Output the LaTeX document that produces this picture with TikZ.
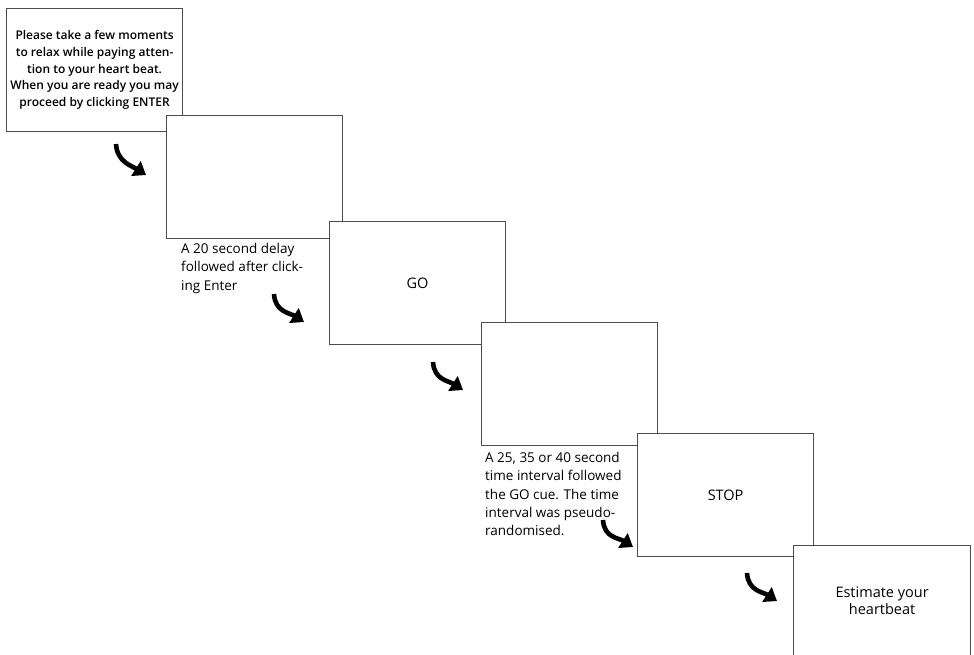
\documentclass[tikz,border=0pt]{standalone}
\usepackage{fontspec}
\setmainfont{Open Sans}[BoldFont={Open Sans Semibold}]
\usetikzlibrary{arrows.meta,positioning}

\begin{document}
\begin{tikzpicture}[x=1pt,y=-1pt,
    screen/.style={draw=black!70,line width=1.2pt,fill=white,anchor=north west,
      minimum width=176pt,minimum height=123pt,align=center,inner sep=0pt,
      font=\fontsize{14.5}{17.5}\selectfont},
    note/.style={anchor=north west,align=left,inner sep=0pt,
      font=\fontsize{13.5}{18.3}\selectfont},
    turn/.style={-{Triangle[length=12pt,width=17pt]},line width=4.6pt}
  ]
    \useasboundingbox (0,0) rectangle (974,654);
    \node[screen,font=\bfseries\fontsize{12}{16.7}\selectfont] (relax) at (6,8)
      {Please take a few moments\\to relax while paying atten-\\tion to your heart beat.\\When you are ready you may\\proceed by clicking ENTER};
    \node[screen] (delay) at (166,115) {};
    \node[note] (delaynote) at (181,243) {A 20 second delay\\followed after click-\\ing Enter};
    \node[screen] (go) at (329,221) {GO};
    \node[screen] (interval) at (481,322) {};
    \node[note] (intervalnote) at (485,452) {A 25, 35 or 40 second\\time interval followed\\the GO cue. The time\\interval was pseudo-\\randomised.};
    \node[screen] (stop) at (637,433) {STOP};
    \node[screen,minimum width=177pt,minimum height=110pt] (estimate) at (793,545) {Estimate your\\heartbeat};
    % curved arrows between the screens
    \coordinate (a1) at (116,144); \coordinate (b1) at (146,175);
    \coordinate (a2) at (274,294); \coordinate (b2) at (304,322);
    \coordinate (a3) at (433,362); \coordinate (b3) at (463,390);
    \coordinate (a4) at (603,520); \coordinate (b4) at (633,547);
    \coordinate (a5) at (747,573); \coordinate (b5) at (777,601);
    \foreach \i in {1,...,5}
      \draw[turn] (a\i) .. controls +(1,18) and +(-14,-9) .. (b\i);
  \end{tikzpicture}
\end{document}
